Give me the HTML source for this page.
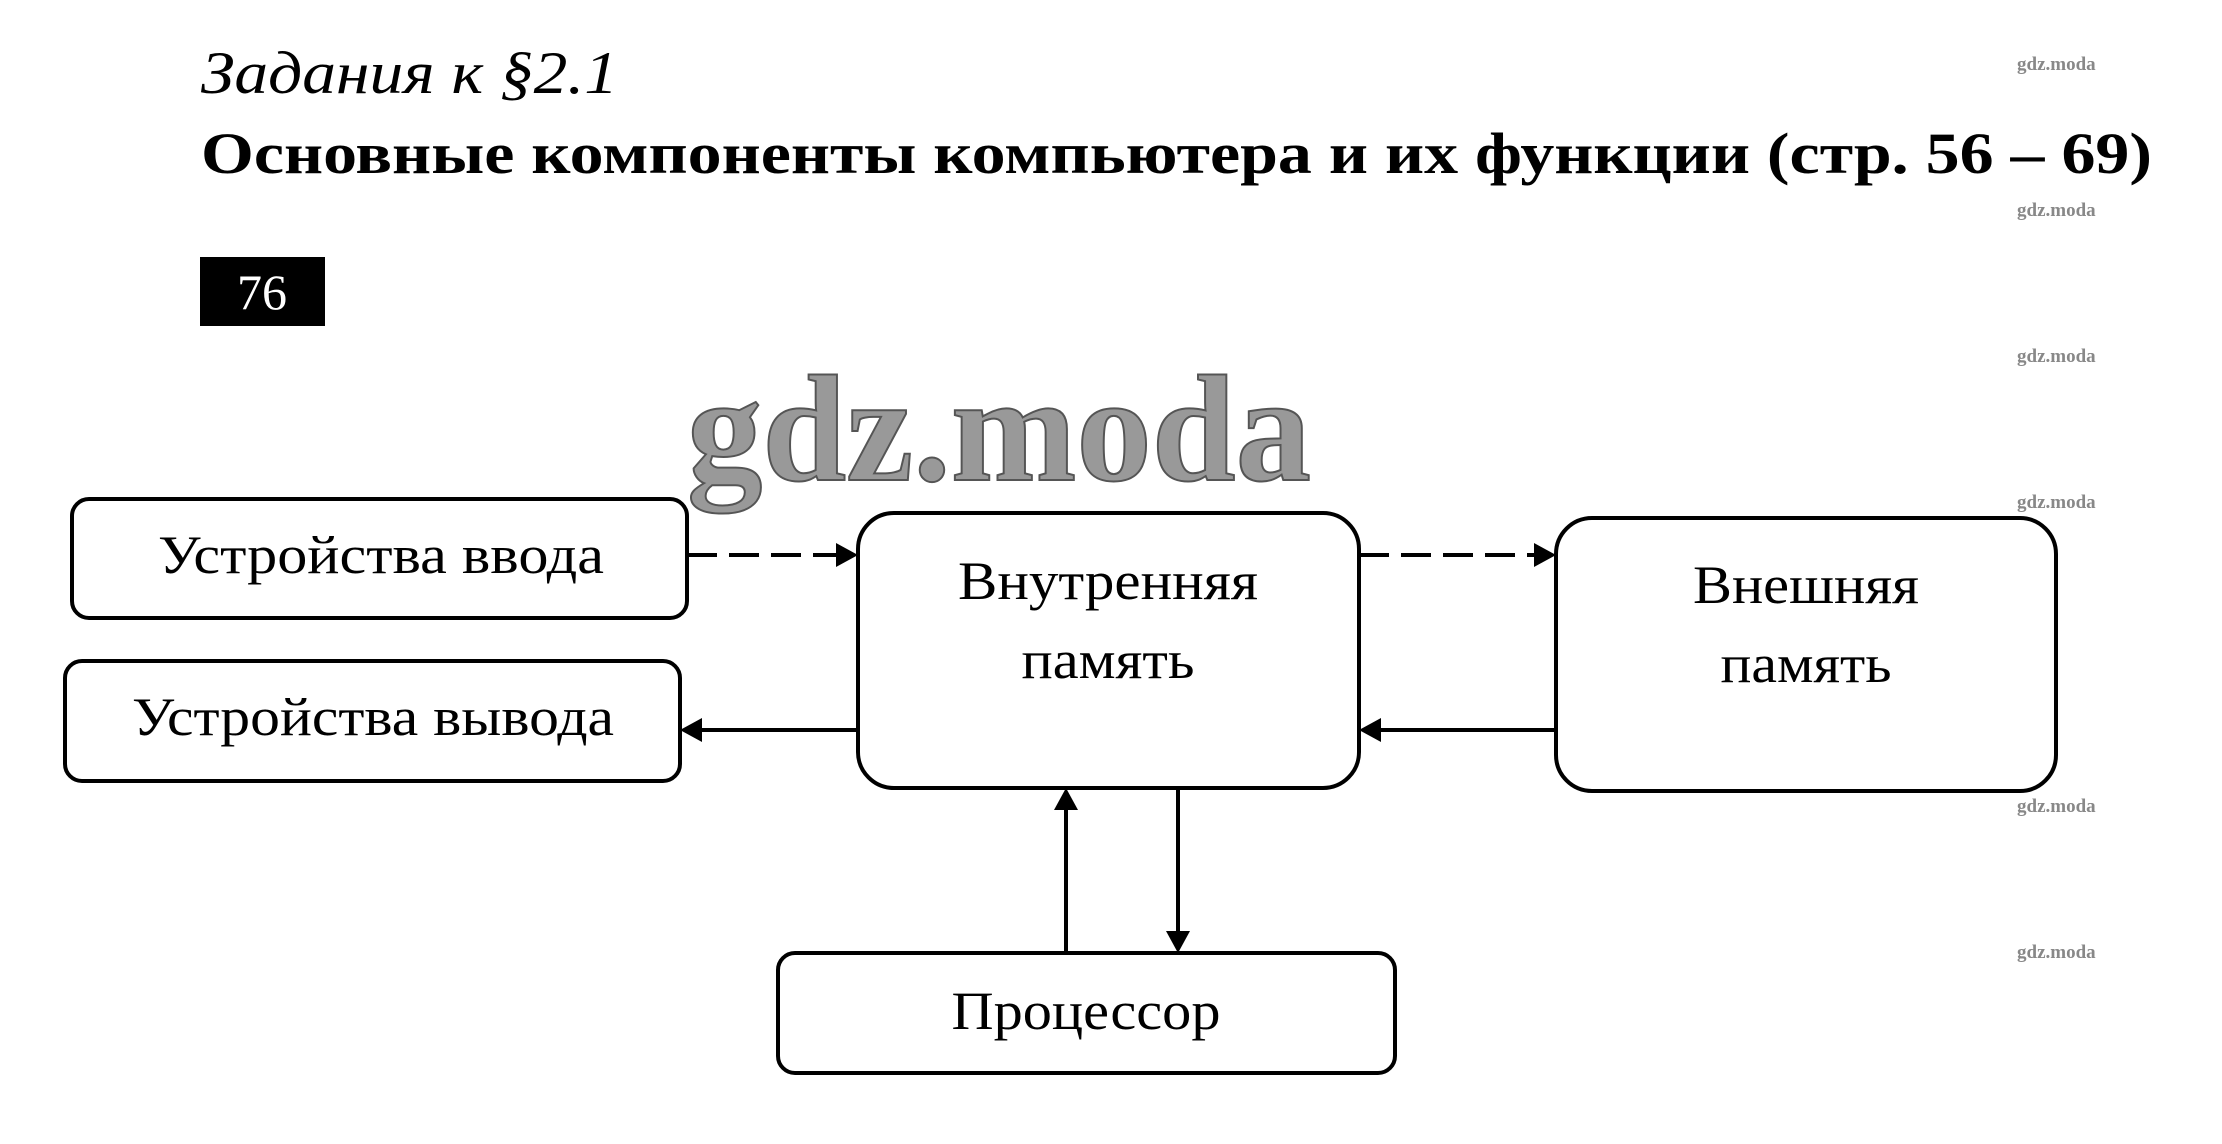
<!DOCTYPE html>
<html><head><meta charset="utf-8"><style>html,body{margin:0;padding:0;background:#fff}svg{display:block}</style></head>
<body>
<svg width="2222" height="1144" viewBox="0 0 2222 1144" xmlns="http://www.w3.org/2000/svg" font-family="'Liberation Serif', serif">
<text x="201" y="93" font-size="60" font-style="italic" textLength="417" lengthAdjust="spacingAndGlyphs">Задания к §2.1</text>
<text x="201" y="173" font-size="58" font-weight="bold" textLength="1951" lengthAdjust="spacingAndGlyphs">Основные компоненты компьютера и их функции (стр. 56 – 69)</text>
<rect x="200" y="257" width="125" height="69" fill="#000"/>
<text x="262" y="309" font-size="50" fill="#fff" text-anchor="middle">76</text>
<g font-size="19" font-weight="bold" fill="#888" text-anchor="start">
<text x="2017" y="70">gdz.moda</text><text x="2017" y="216">gdz.moda</text><text x="2017" y="362">gdz.moda</text>
<text x="2017" y="508">gdz.moda</text><text x="2017" y="812">gdz.moda</text><text x="2017" y="958">gdz.moda</text>
</g>
<text x="687" y="480" font-size="152" font-weight="bold" fill="#999" stroke="#555" stroke-width="2" textLength="624" lengthAdjust="spacingAndGlyphs">gdz.moda</text>
<g fill="none" stroke="#000" stroke-width="4">
<rect x="72" y="499" width="615" height="119" rx="17"/>
<rect x="65" y="661" width="615" height="120" rx="17"/>
<rect x="858" y="513" width="501" height="275" rx="36"/>
<rect x="1556" y="518" width="500" height="273" rx="36"/>
<rect x="778" y="953" width="617" height="120" rx="17"/>
<line x1="687" y1="555" x2="840" y2="555" stroke-dasharray="30 12"/>
<line x1="1359" y1="555" x2="1536" y2="555" stroke-dasharray="30 12"/>
<line x1="858" y1="730" x2="700" y2="730"/>
<line x1="1556" y1="730" x2="1378" y2="730"/>
<line x1="1066" y1="953" x2="1066" y2="808"/>
<line x1="1178" y1="788" x2="1178" y2="933"/>
</g>
<g fill="#000">
<polygon points="858,555 836,543 836,567"/>
<polygon points="1556,555 1534,543 1534,567"/>
<polygon points="680,730 702,718 702,742"/>
<polygon points="1359,730 1381,718 1381,742"/>
<polygon points="1066,788 1054,810 1078,810"/>
<polygon points="1178,953 1166,931 1190,931"/>
</g>
<g font-size="54" text-anchor="middle">
<text x="381" y="573" textLength="446" lengthAdjust="spacingAndGlyphs">Устройства ввода</text>
<text x="373" y="735" textLength="482" lengthAdjust="spacingAndGlyphs">Устройства вывода</text>
<text x="1108" y="599" textLength="300" lengthAdjust="spacingAndGlyphs">Внутренняя</text>
<text x="1108" y="678" textLength="173" lengthAdjust="spacingAndGlyphs">память</text>
<text x="1806" y="603" textLength="226" lengthAdjust="spacingAndGlyphs">Внешняя</text>
<text x="1806" y="682" textLength="171" lengthAdjust="spacingAndGlyphs">память</text>
<text x="1086" y="1029" textLength="269" lengthAdjust="spacingAndGlyphs">Процессор</text>
</g>
</svg>
</body></html>
